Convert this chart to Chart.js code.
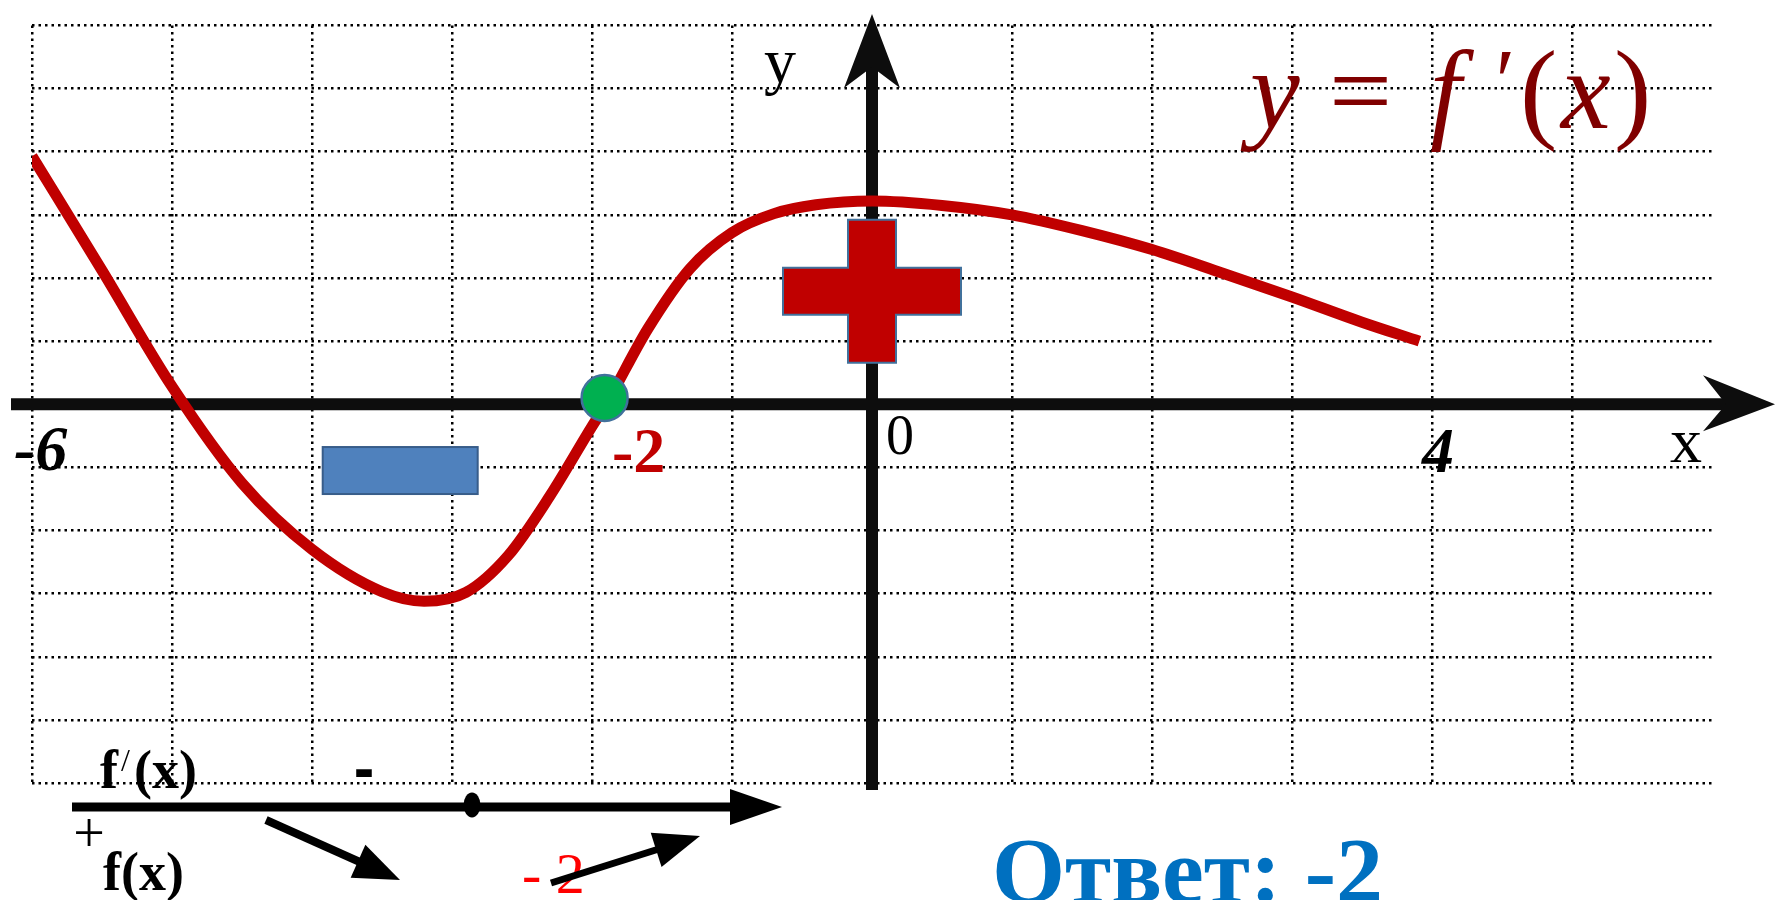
<!DOCTYPE html>
<html>
<head>
<meta charset="utf-8">
<script src="https://cdn.jsdelivr.net/npm/chart.js@4.4.0/dist/chart.umd.min.js"></script>
<style>
  html, body { margin: 0; padding: 0; background: #fff; overflow: hidden; }
  canvas { display: block; }
</style>
</head>
<body>
<canvas id="c" width="1775" height="900"></canvas>
<script>
// f'(x) (one grid cell = 1 unit)
const curveX = [-6.0, -5.5, -5.0, -4.5, -4.0, -3.5, -3.2, -2.9, -2.6, -2.3, -2.0, -1.9,
                -1.6, -1.3, -1.0, -0.7, -0.4, 0.0, 0.5, 1.0, 1.5, 2.0, 2.5, 3.0, 3.5, 3.91];
const curveY = [3.93, 2.12, 0.28, -1.25, -2.30, -2.97, -3.12, -2.98, -2.40, -1.45, -0.35, 0.0,
                1.20, 2.15, 2.72, 3.02, 3.16, 3.22, 3.15, 3.00, 2.75, 2.45, 2.08, 1.70, 1.30, 1.00];

// zero of f'(x) where the sign changes - to +
const rootX = [-1.91];
const rootY = [0.10];

// axis range
const xMin = -6, xMax = 6;
const yMin = -6, yMax = 6;

const SERIF = "'Liberation Serif', 'Times New Roman', serif";

function poly(ctx, pts) {
  ctx.beginPath();
  ctx.moveTo(pts[0][0], pts[0][1]);
  for (let i = 1; i < pts.length; i++) ctx.lineTo(pts[i][0], pts[i][1]);
  ctx.closePath();
}

// straight arrow with a triangular head
function arrow(ctx, x1, y1, x2, y2, w, headLen, headHalf) {
  const a = Math.atan2(y2 - y1, x2 - x1);
  const bx = x2 - headLen * Math.cos(a), by = y2 - headLen * Math.sin(a);
  ctx.strokeStyle = '#000';
  ctx.lineWidth = w;
  ctx.lineCap = 'butt';
  ctx.beginPath();
  ctx.moveTo(x1, y1);
  ctx.lineTo(bx + 2 * Math.cos(a), by + 2 * Math.sin(a));
  ctx.stroke();
  ctx.fillStyle = '#000';
  poly(ctx, [
    [x2, y2],
    [bx - headHalf * Math.sin(a), by + headHalf * Math.cos(a)],
    [bx + headHalf * Math.sin(a), by - headHalf * Math.cos(a)]
  ]);
  ctx.fill();
}

function text(ctx, str, x, y, font, color, align, sy) {
  ctx.save();
  ctx.font = font;
  ctx.fillStyle = color;
  ctx.textAlign = align || 'left';
  ctx.textBaseline = 'alphabetic';
  ctx.translate(x, y);
  if (sy) ctx.scale(1, sy);
  ctx.fillText(str, 0, 0);
  ctx.restore();
}

const decor = {
  id: 'decor',
  beforeDatasetsDraw(chart) {
    const ctx = chart.ctx;
    const xs = chart.scales.x, ys = chart.scales.y;
    const x0 = xs.getPixelForValue(0), y0 = ys.getPixelForValue(0);
    const W = chart.width;
    ctx.save();
    ctx.fillStyle = '#0d0d0d';
    // x axis with notched arrow
    ctx.fillRect(11, y0 - 6, W - 49 - 11 + 2, 12);
    poly(ctx, [[W, y0], [W - 72, y0 - 29], [W - 49, y0], [W - 72, y0 + 27]]);
    ctx.fill();
    // y axis with notched arrow
    const yb = ys.getPixelForValue(yMin) + 7;
    ctx.fillRect(x0 - 6, 65, 12, yb - 65);
    poly(ctx, [[x0, 14], [x0 - 28, 88], [x0, 67], [x0 + 28, 88]]);
    ctx.fill();
    ctx.restore();
  },
  afterDatasetsDraw(chart) {
    const ctx = chart.ctx;
    const xs = chart.scales.x, ys = chart.scales.y;
    const x0 = xs.getPixelForValue(0);
    ctx.save();

    // "+" sign on the positive part
    const cx = x0, cy = ys.getPixelForValue(1.79);
    const vw = 24, vh = 71.5, hw = 89, hh = 23.5;
    poly(ctx, [
      [cx - vw, cy - vh], [cx + vw, cy - vh], [cx + vw, cy - hh], [cx + hw, cy - hh],
      [cx + hw, cy + hh], [cx + vw, cy + hh], [cx + vw, cy + vh], [cx - vw, cy + vh],
      [cx - vw, cy + hh], [cx - hw, cy + hh], [cx - hw, cy - hh], [cx - vw, cy - hh]
    ]);
    ctx.fillStyle = '#c00000';
    ctx.fill();
    ctx.strokeStyle = '#41719c';
    ctx.lineWidth = 2;
    ctx.stroke();

    // "-" sign on the negative part
    const mx = xs.getPixelForValue(-3.37), my = ys.getPixelForValue(-1.05);
    ctx.fillStyle = '#4f81bd';
    ctx.fillRect(mx - 77.5, my - 23.5, 155, 47);
    ctx.strokeStyle = '#385d8a';
    ctx.lineWidth = 2;
    ctx.strokeRect(mx - 77.5, my - 23.5, 155, 47);

    // axis labels
    text(ctx, 'y', 764, 82, '64px ' + SERIF, '#000');
    text(ctx, 'x', 1670, 462, '64px ' + SERIF, '#000');
    text(ctx, '0', 886, 454, '56px ' + SERIF, '#000');
    text(ctx, '-6', 14, 470, 'italic bold 64px ' + SERIF, '#000');
    text(ctx, '-2', 612, 472, 'bold 64px ' + SERIF, '#c00000');
    text(ctx, '4', 1422, 472, 'italic bold 64px ' + SERIF, '#000');

    // y = f'(x)
    const fc = '#800000';
    text(ctx, 'y', 1250, 128, 'italic 112px ' + SERIF, fc);
    text(ctx, '=', 1329, 128, '112px ' + SERIF, fc);
    text(ctx, 'f', 1430, 128, 'italic 112px ' + SERIF, fc);
    text(ctx, '\u2032', 1490, 112, 'italic 90px ' + SERIF, fc);
    text(ctx, '(', 1520, 128, '112px ' + SERIF, fc);
    text(ctx, 'x', 1561, 128, 'italic 112px ' + SERIF, fc);
    text(ctx, ')', 1614, 128, '112px ' + SERIF, fc);

    // sign diagram at the bottom
    const ly = 807;
    ctx.fillStyle = '#000';
    ctx.fillRect(72, ly - 4.5, 730 - 72 + 2, 9);
    poly(ctx, [[730, ly - 18], [782, ly], [730, ly + 18]]);
    ctx.fill();
    ctx.beginPath();
    ctx.ellipse(472, ly - 2, 8.5, 12.5, 0, 0, Math.PI * 2);
    ctx.fill();

    text(ctx, 'f', 100, 788, 'bold 54px ' + SERIF, '#000');
    text(ctx, '/', 121, 771, '32px ' + SERIF, '#000');
    text(ctx, '(x)', 134, 788, 'bold 54px ' + SERIF, '#000');
    text(ctx, '-', 364, 795, 'bold 60px ' + SERIF, '#000', 'center', 1.5);
    text(ctx, '+', 89, 852, '56px ' + SERIF, '#000', 'center');
    text(ctx, 'f(x)', 103, 890, 'bold 54px ' + SERIF, '#000');
    arrow(ctx, 266, 820, 400, 880, 8, 46, 18);
    text(ctx, '- 2', 522, 893, '58px ' + SERIF, '#ff0000');
    arrow(ctx, 551, 883, 700, 836, 7, 46, 18);

    // answer
    text(ctx, 'Ответ: -2', 992, 902, 'bold 94px ' + SERIF, '#0070c0');

    ctx.restore();
  }
};

const curvePts = curveX.map((x, i) => ({ x: x, y: curveY[i] }));
const rootPts = rootX.map((x, i) => ({ x: x, y: rootY[i] }));

new Chart(document.getElementById('c'), {
  type: 'line',
  data: {
    datasets: [
      {
        label: 'root',
        data: rootPts,
        showLine: false,
        pointRadius: 23,
        pointBackgroundColor: '#00b050',
        pointBorderColor: '#41719c',
        pointBorderWidth: 2.5,
        order: 0
      },
      {
        label: "f'(x)",
        data: curvePts,
        borderColor: '#c00000',
        borderWidth: 11,
        borderCapStyle: 'butt',
        pointRadius: 0,
        cubicInterpolationMode: 'monotone',
        fill: false,
        order: 1
      }
    ]
  },
  options: {
    responsive: false,
    animation: false,
    devicePixelRatio: 1,
    layout: { padding: { left: 32, right: 63, top: 22, bottom: 117 } },
    plugins: { legend: { display: false }, tooltip: { enabled: false } },
    scales: {
      x: {
        type: 'linear', min: xMin, max: xMax,
        ticks: { display: false, stepSize: 1 },
        border: { display: false, dash: [2.5, 4] },
        grid: {
          drawTicks: false, lineWidth: 2.5,
          color: c => (c.tick && c.tick.value === xMax) ? 'rgba(0,0,0,0)' : '#000'
        }
      },
      y: {
        type: 'linear', min: yMin, max: yMax,
        ticks: { display: false, stepSize: 1 },
        border: { display: false, dash: [2.5, 4] },
        grid: { drawTicks: false, lineWidth: 2.5, color: '#000' }
      }
    }
  },
  plugins: [decor]
});
</script>
</body>
</html>
